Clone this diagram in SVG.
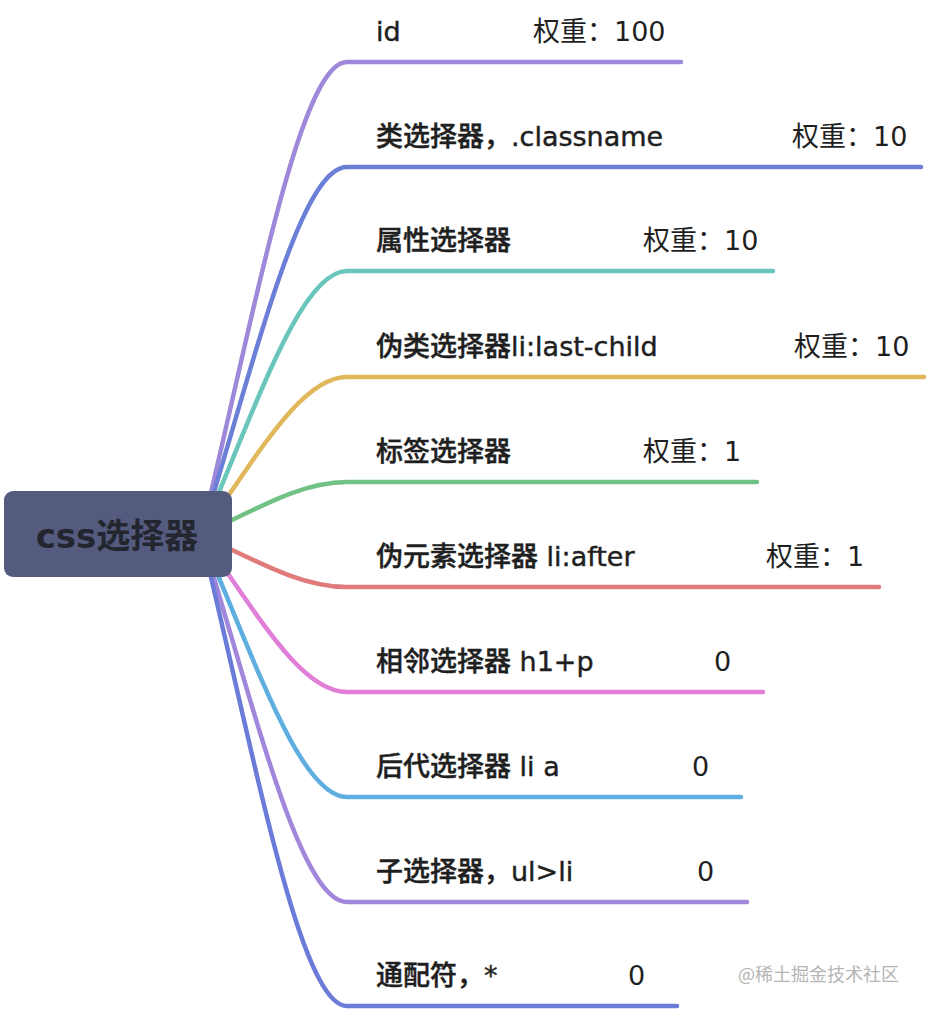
<svg xmlns="http://www.w3.org/2000/svg" width="926" height="1012" viewBox="0 0 926 1012">
<style>
.c{fill:none;stroke-width:4.5;stroke-linecap:round;stroke-linejoin:round}
.t{font-family:"DejaVu Sans","Noto Sans CJK SC",sans-serif;font-size:27px;fill:#1f1f1f}
.lbl{font-weight:500;stroke:#1f1f1f;stroke-width:0.45px}
.root{font-family:"DejaVu Sans","Noto Sans CJK SC",sans-serif;font-size:34px;font-weight:bold;fill:#23262f}
.wm{font-family:"Noto Sans CJK SC",sans-serif;font-size:18px;fill:#b5b5b5}
</style>
<rect width="926" height="1012" fill="#ffffff"/>
<g id="connectors">
<path class="c" stroke="#9d88d9" d="M201 535 C255 310 300 62 347 62 L681 62"/>
<path class="c" stroke="#6b7fd7" d="M201 535 C255 360 300 167 347 167 L921 167"/>
<path class="c" stroke="#6ac6bb" d="M201 535 C255 410 300 271 347 271 L773 271"/>
<path class="c" stroke="#e0b75b" d="M201 535 C255 460 300 377 347 377 L924 377"/>
<path class="c" stroke="#72c285" d="M201 535 C255 510 300 482 347 482 L757 482"/>
<path class="c" stroke="#e07b7b" d="M201 535 C255 560 300 587 347 587 L879 587"/>
<path class="c" stroke="#e07ed8" d="M201 535 C255 610 300 692 347 692 L763 692"/>
<path class="c" stroke="#5eaee0" d="M201 535 C255 660 300 797 347 797 L741 797"/>
<path class="c" stroke="#a087dc" d="M201 535 C255 710 300 902 347 902 L747 902"/>
<path class="c" stroke="#6b7bd8" d="M201 535 C255 759 300 1006 347 1006 L677 1006"/>
</g>
<g id="root">
<rect x="4" y="491" width="228" height="86" rx="9" fill="#555b7e"/>
<text class="root" x="117" y="548" text-anchor="middle">css选择器</text>
</g>
<g id="n1"><text class="t lbl" x="376" y="41">id</text><text class="t" x="533" y="41">权重：100</text></g>
<g id="n2"><text class="t lbl" x="376" y="146">类选择器，.classname</text><text class="t" x="792" y="146">权重：10</text></g>
<g id="n3"><text class="t lbl" x="376" y="250">属性选择器</text><text class="t" x="643" y="250">权重：10</text></g>
<g id="n4"><text class="t lbl" x="376" y="356">伪类选择器li:last-child</text><text class="t" x="794" y="356">权重：10</text></g>
<g id="n5"><text class="t lbl" x="376" y="461">标签选择器</text><text class="t" x="643" y="461">权重：1</text></g>
<g id="n6"><text class="t lbl" x="376" y="566">伪元素选择器 li:after</text><text class="t" x="766" y="566">权重：1</text></g>
<g id="n7"><text class="t lbl" x="376" y="671">相邻选择器 h1+p</text><text class="t" x="714" y="671">0</text></g>
<g id="n8"><text class="t lbl" x="376" y="776">后代选择器 li a</text><text class="t" x="692" y="776">0</text></g>
<g id="n9"><text class="t lbl" x="376" y="881">子选择器，ul&gt;li</text><text class="t" x="697" y="881">0</text></g>
<g id="n10"><text class="t lbl" x="376" y="985">通配符，*</text><text class="t" x="628" y="985">0</text></g>
<text class="wm" x="738" y="981">@稀土掘金技术社区</text>
</svg>
